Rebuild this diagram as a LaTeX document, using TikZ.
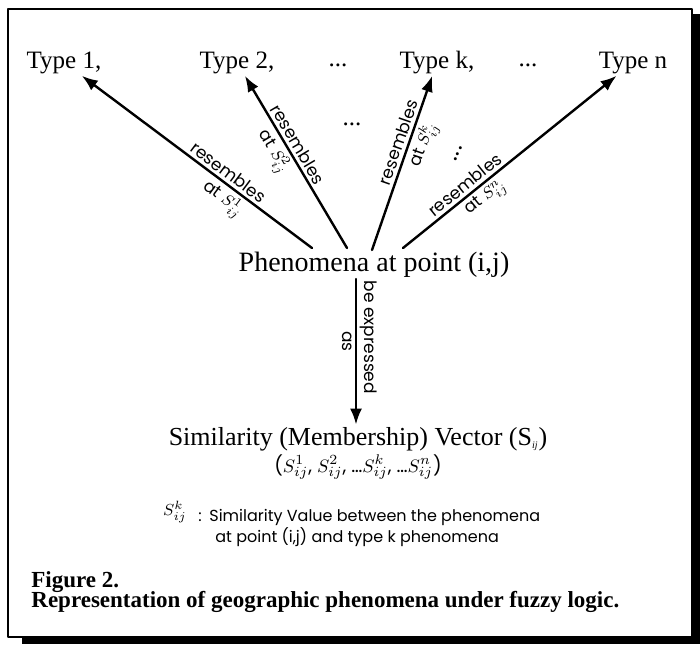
\documentclass[tikz,border=0pt]{standalone}
\usepackage{fontspec}
\setmainfont{Liberation Serif}
\setsansfont{Poppins}
\usetikzlibrary{arrows.meta,positioning}
\tikzset{
  typenode/.style={inner sep=1pt,font=\fontsize{12.5}{15}\selectfont},
  mainnode/.style={inner sep=1pt,font=\fontsize{13.5}{16}\selectfont},
  lab/.style={inner sep=1.5pt,font=\sffamily\fontsize{8.5}{10}\selectfont},
  small/.style={inner sep=1pt,font=\sffamily\fontsize{8}{9.5}\selectfont},
  capnode/.style={inner sep=0pt,font=\bfseries\fontsize{11.5}{13}\selectfont},
  every picture/.style={line cap=round,line join=round}
}
\newcommand\Sij[1]{$S_{ij}^{#1}$}

\begin{document}
\begin{tikzpicture}[x=0.5pt,y=-0.5pt,>={Latex[length=8pt,width=6pt]}]
  \useasboundingbox (0,0) rectangle (700,644);
  % frame and shadow
  \fill (22,637) rectangle (700,644);
  \fill (692,14) rectangle (700,644);
  \draw[line width=1pt] (8,9) rectangle (692,637);
  % types
  \node[typenode,anchor=base] (t1) at (64,68) {Type 1,};
  \node[typenode,anchor=base] (t2) at (237,68) {Type 2,};
  \node[typenode,anchor=base] (d1) at (338,66) {...};
  \node[typenode,anchor=base] (tk) at (437,68) {Type k,};
  \node[typenode,anchor=base] (d2) at (528,66) {...};
  \node[typenode,anchor=base] (tn) at (633,68) {Type n};
  \node[typenode] (md) at (352,124) {...};
  \node[typenode,inner sep=0pt,rotate=65] (rd) at (458,154) {...};
  % phenomena and vector
  \node[mainnode,font=\fontsize{14}{16}\selectfont,anchor=base] (ph) at (374,271) {Phenomena at point (i,j)};
  \node[mainnode,font=\fontsize{13}{16}\selectfont,anchor=base] (sv) at (358,445) {Similarity (Membership) Vector (S\textsubscript{\tiny\itshape ij})};
  \node[small,font=\sffamily\fontsize{9.5}{11}\selectfont] (vec) at (358,467)
    {(\Sij{1}, \Sij{2}, \dots\Sij{k}, \dots\Sij{n})};
  \coordinate (s0) at (356,279);
  \coordinate (s1) at (312,248);
  \coordinate (s2) at (347,248);
  \coordinate (s3) at (372,250);
  \coordinate (s4) at (403,248);
  \begin{scope}[line width=1.2pt]
  \draw[->] (s1)--node[lab,sloped,above,pos=.39] {resembles}
    node[lab,sloped,below,pos=.35] {at \Sij{1}} (t1);
  \draw[->] (s2)--node[lab,sloped,above,pos=.57] {resembles}
    node[lab,sloped,below,pos=.6] {at \Sij{2}} (t2);
  \draw[->] (s3)--node[lab,sloped,above,pos=.6] {resembles}
    node[lab,sloped,below,pos=.63] {at \Sij{k}} (tk);
  \draw[->] (s4)--node[lab,sloped,above,pos=.32] {resembles}
    node[lab,sloped,below,pos=.35] {at \Sij{n}} (tn);
  \draw[->] (s0)--node[lab,rotate=-90,anchor=south,pos=.4] {be expressed}
    node[lab,rotate=-90,anchor=north,pos=.43] {as} (s0 |- sv.north);
  \end{scope}
  % key
  \node[small,inner sep=0pt,font=\sffamily\fontsize{8.5}{10}\selectfont] (key) at (175,512) {\Sij{k}};
  \node[small,inner sep=0pt] (colon) at (200,517) {:};
  \node[small,anchor=north west,align=left] (keytext) at (207,507)
    {Similarity Value between the phenomena\\\hspace{3pt}at point (i,j) and type k phenomena};
  % caption
  \node[capnode,anchor=base west] (fig) at (31,587) {Figure 2.};
  \node[capnode,anchor=base west] (captxt) at (31,607)
    {Representation of geographic phenomena under fuzzy logic.};
\end{tikzpicture}
\end{document}
